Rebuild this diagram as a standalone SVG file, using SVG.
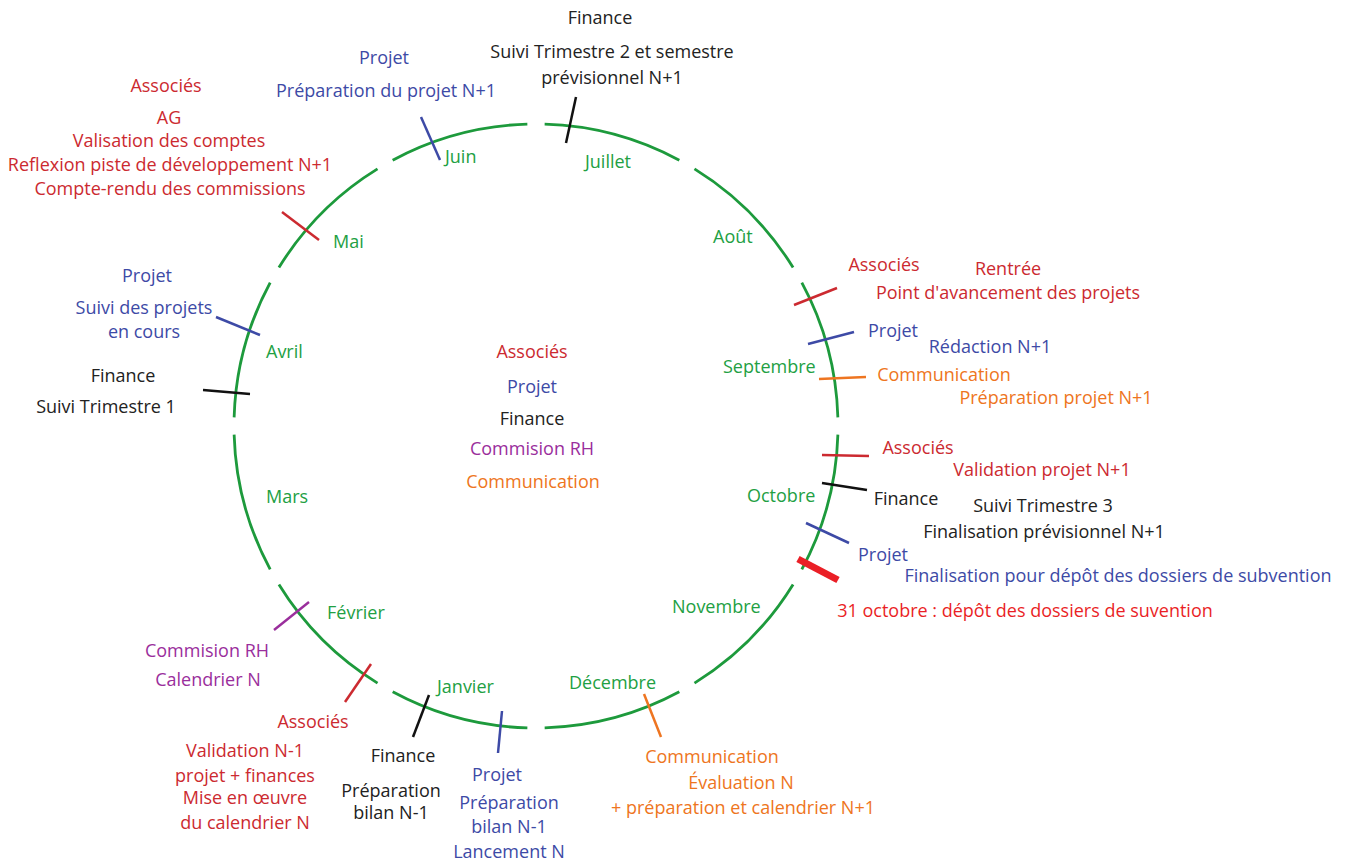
<svg xmlns="http://www.w3.org/2000/svg" width="1348" height="861" viewBox="0 0 1348 861">
<style>
text{font-family:"Open Sans","Noto Sans","Liberation Sans",sans-serif;font-size:18px}
.m{text-anchor:middle}
.red{fill:#cc2a30}
.blue{fill:#3d4aa6}
.blk{fill:#222222}
.pur{fill:#9a2e9c}
.org{fill:#ee7521}
.grn{fill:#22a043}
.bred{fill:#ea1f26}
.t{stroke-width:2.5;fill:none;stroke-linecap:butt}
.tr{stroke:#cc2a30}.tb{stroke:#3d4aa6}.tk{stroke:#111111}.tp{stroke:#9a2e9c}.to{stroke:#ee7521}
</style>
<rect width="1348" height="861" fill="#ffffff"/>
<g id="ring">
<circle cx="536" cy="426" r="302" fill="none" stroke="#1d9a3c" stroke-width="2.8" pathLength="1200" stroke-dasharray="88.93 11.07" stroke-dashoffset="94.47"/>
</g>
<g id="connectors">
<line class="t tb" x1="421" y1="117" x2="440" y2="160"/>
<line class="t tk" x1="576" y1="97" x2="566" y2="143"/>
<line class="t tr" x1="282" y1="212" x2="319" y2="240"/>
<line class="t tb" x1="216" y1="317" x2="260" y2="335"/>
<line class="t tk" x1="203" y1="390" x2="250" y2="394"/>
<line class="t tp" x1="274" y1="630" x2="309" y2="602"/>
<line class="t tr" x1="345" y1="702" x2="371" y2="664"/>
<line class="t tk" x1="413" y1="737" x2="429" y2="695"/>
<line class="t tb" x1="502" y1="711" x2="498" y2="753"/>
<line class="t to" x1="644" y1="694" x2="661" y2="737"/>
<line class="t tr" x1="794" y1="305" x2="837" y2="288"/>
<line class="t tb" x1="808" y1="344" x2="854" y2="332"/>
<line class="t to" x1="819" y1="379" x2="866" y2="377"/>
<line class="t tr" x1="822" y1="455" x2="869" y2="456"/>
<line class="t tk" x1="822" y1="483" x2="867" y2="490"/>
<line class="t tb" x1="806" y1="523" x2="849" y2="543"/>
<line x1="798" y1="559" x2="838" y2="580" stroke="#ea1f26" stroke-width="7"/>
</g>
<g id="months">
<text class="grn" x="445" y="163">Juin</text>
<text class="grn" x="585" y="168">Juillet</text>
<text class="grn" x="713" y="243">Août</text>
<text class="grn" x="333" y="248">Mai</text>
<text class="grn" x="266" y="358">Avril</text>
<text class="grn" x="266" y="503">Mars</text>
<text class="grn" x="327" y="619">Février</text>
<text class="grn" x="723" y="373">Septembre</text>
<text class="grn" x="747" y="502">Octobre</text>
<text class="grn" x="672" y="613">Novembre</text>
<text class="grn" x="437" y="693">Janvier</text>
<text class="grn" x="569" y="689">Décembre</text>
</g>
<g id="legend">
<text class="m red" x="532" y="358">Associés</text>
<text class="m blue" x="532" y="393">Projet</text>
<text class="m blk" x="532" y="425">Finance</text>
<text class="m pur" x="532" y="455">Commision RH</text>
<text class="m org" x="533" y="488">Communication</text>
</g>
<g id="top-finance">
<text class="m blk" x="600" y="24">Finance</text>
<text class="m blk" x="612" y="58">Suivi Trimestre 2 et semestre</text>
<text class="m blk" x="612" y="84">prévisionnel N+1</text>
</g>
<g id="juin-projet">
<text class="m blue" x="384" y="64">Projet</text>
<text class="m blue" x="386" y="97">Préparation du projet N+1</text>
</g>
<g id="mai-associes">
<text class="m red" x="166" y="92">Associés</text>
<text class="m red" x="169" y="124">AG</text>
<text class="m red" x="169" y="147">Valisation des comptes</text>
<text class="m red" x="170" y="171">Reflexion piste de développement N+1</text>
<text class="m red" x="170" y="195">Compte-rendu des commissions</text>
</g>
<g id="avril-projet">
<text class="m blue" x="147" y="282">Projet</text>
<text class="m blue" x="144" y="314">Suivi des projets</text>
<text class="m blue" x="144" y="338">en cours</text>
</g>
<g id="avril-finance">
<text class="m blk" x="123" y="382">Finance</text>
<text class="m blk" x="106" y="413">Suivi Trimestre 1</text>
</g>
<g id="fevrier-rh">
<text class="m pur" x="207" y="657">Commision RH</text>
<text class="m pur" x="208" y="686">Calendrier N</text>
</g>
<g id="janvier-associes">
<text class="m red" x="313" y="728">Associés</text>
<text class="m red" x="245" y="757">Validation N-1</text>
<text class="m red" x="245" y="782">projet + finances</text>
<text class="m red" x="245" y="804">Mise en œuvre</text>
<text class="m red" x="245" y="829">du calendrier N</text>
</g>
<g id="janvier-finance">
<text class="m blk" x="403" y="762">Finance</text>
<text class="m blk" x="391" y="797">Préparation</text>
<text class="m blk" x="391" y="819">bilan N-1</text>
</g>
<g id="janvier-projet">
<text class="m blue" x="497" y="781">Projet</text>
<text class="m blue" x="509" y="809">Préparation</text>
<text class="m blue" x="509" y="833">bilan N-1</text>
<text class="m blue" x="509" y="858">Lancement N</text>
</g>
<g id="decembre-com">
<text class="m org" x="712" y="763">Communication</text>
<text class="m org" x="741" y="789">Évaluation N</text>
<text class="m org" x="743" y="814">+ préparation et calendrier N+1</text>
</g>
<g id="sept-associes">
<text class="m red" x="884" y="271">Associés</text>
<text class="m red" x="1008" y="275">Rentrée</text>
<text class="m red" x="1008" y="299">Point d'avancement des projets</text>
</g>
<g id="sept-projet">
<text class="m blue" x="893" y="337">Projet</text>
<text class="m blue" x="990" y="353">Rédaction N+1</text>
</g>
<g id="sept-com">
<text class="m org" x="944" y="381">Communication</text>
<text class="m org" x="1056" y="404">Préparation projet N+1</text>
</g>
<g id="oct-associes">
<text class="m red" x="918" y="454">Associés</text>
<text class="m red" x="1042" y="476">Validation projet N+1</text>
</g>
<g id="oct-finance">
<text class="m blk" x="906" y="505">Finance</text>
<text class="m blk" x="1043" y="512">Suivi Trimestre 3</text>
<text class="m blk" x="1044" y="538">Finalisation prévisionnel N+1</text>
</g>
<g id="oct-projet">
<text class="m blue" x="883" y="561">Projet</text>
<text class="m blue" x="1118" y="582">Finalisation pour dépôt des dossiers de subvention</text>
</g>
<g id="oct-depot">
<text class="m bred" x="1025" y="617">31 octobre : dépôt des dossiers de suvention</text>
</g>
</svg>
